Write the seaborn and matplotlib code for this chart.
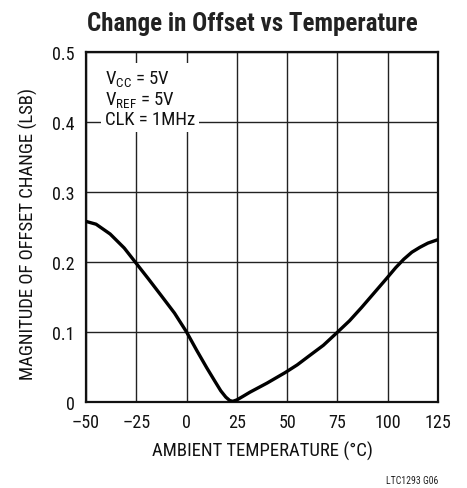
import numpy as np
import pandas as pd
import seaborn as sns
import matplotlib.pyplot as plt

# values
temperature = [-50, -45, -38, -31, -25, -19, -12.6, -6, 0, 5, 10, 14, 17, 19.5, 21.5, 23,
               25, 28, 31.5, 40, 49, 55, 61, 68, 74, 81, 87, 93, 99.3, 104, 108, 112, 116, 120, 125]
offset_change = [0.258, 0.254, 0.240, 0.220, 0.198, 0.176, 0.152, 0.127, 0.100, 0.074,
                 0.049, 0.030, 0.016, 0.007, 0.002, 0.001, 0.003, 0.008, 0.014, 0.027,
                 0.042, 0.053, 0.066, 0.081, 0.097, 0.116, 0.135, 0.155, 0.176, 0.192,
                 0.204, 0.214, 0.221, 0.227, 0.232]

x_ticks = [-50, -25, 0, 25, 50, 75, 100, 125]
x_tick_labels = ["\u201350", "\u201325", "0", "25", "50", "75", "100", "125"]
y_ticks = [0, 0.1, 0.2, 0.3, 0.4, 0.5]
y_tick_labels = ["0", "0.1", "0.2", "0.3", "0.4", "0.5"]

sns.set_style("white")
plt.rcParams['font.family'] = ['Roboto Condensed', 'DejaVu Sans']
plt.rcParams['mathtext.default'] = 'regular'

df = pd.DataFrame({'temp': temperature, 'offset': offset_change})

fig = plt.figure(figsize=(4.67, 4.89), dpi=100)
ax = fig.add_axes([86 / 467, 1 - 403 / 489, 352 / 467, 350 / 489])

sns.lineplot(data=df, x='temp', y='offset', sort=False, color='black', linewidth=2.4, ax=ax, zorder=3)

ax.set_xlim(-50, 125)
ax.set_ylim(0, 0.5)
ax.set_xticks(x_ticks)
ax.set_xticklabels(x_tick_labels)
ax.set_yticks(y_ticks)
ax.set_yticklabels(y_tick_labels)
ax.tick_params(length=0, labelsize=13, colors='#111111')
ax.tick_params(axis='x', pad=8)
ax.tick_params(axis='y', pad=8)
ax.grid(True, color='#222222', linewidth=1.0)
for s in ax.spines.values():
    s.set_color('#111111')
    s.set_linewidth(1.6)
    s.set_visible(True)

ax.set_xlabel('AMBIENT TEMPERATURE (°C)', fontsize=13.5, color='#111111', labelpad=7)
ax.set_ylabel('MAGNITUDE OF OFFSET CHANGE (LSB)', fontsize=13.5, color='#111111')
ax.yaxis.set_label_coords(-0.137, 0.483)

ax.text(-40.5, 0.477, '$V_{CC}$ = 5V\n$V_{REF}$ = 5V\nCLK = 1MHz', fontsize=13.5,
        va='top', ha='left', color='#111111', linespacing=1.05, zorder=4,
        bbox=dict(facecolor='white', edgecolor='none', pad=3))

fig.text(252 / 467, 1 - 31 / 489, 'Change in Offset vs Temperature', fontsize=18,
         fontweight='bold', ha='center', va='baseline', color='#222222')
fig.text(438 / 467, 1 - 481 / 489, 'LTC1293 G06', fontsize=7, ha='right', va='center',
         color='#222222')

fig.savefig('out.png', dpi=100)
